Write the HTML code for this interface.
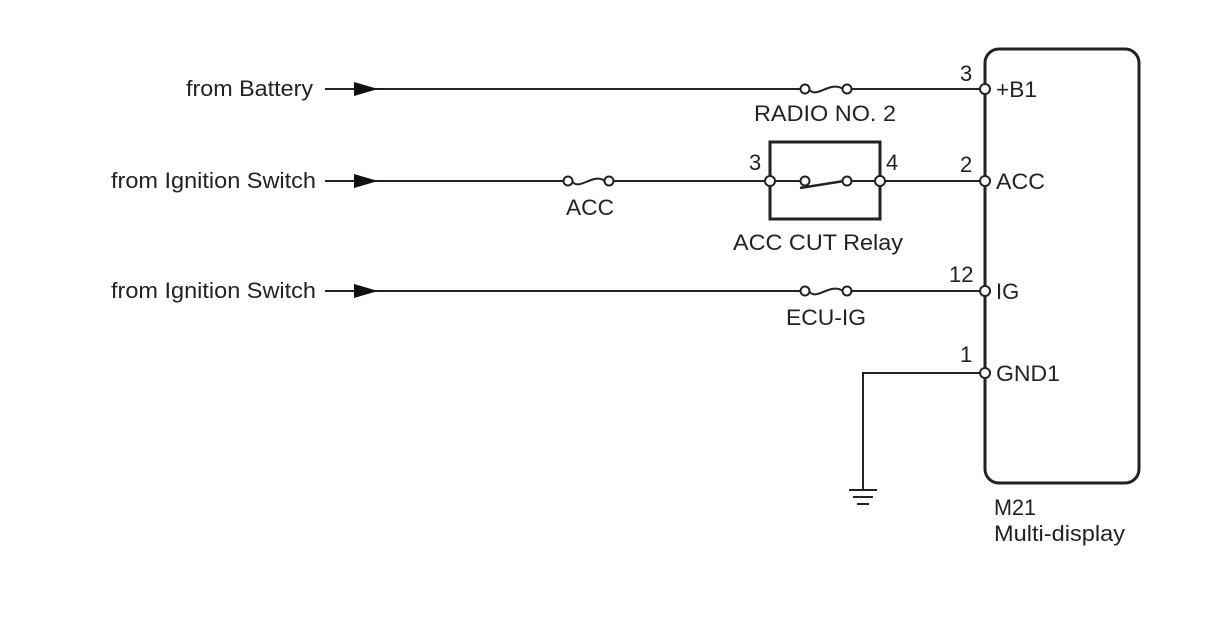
<!DOCTYPE html>
<html><head><meta charset="utf-8"><style>
html,body{margin:0;padding:0;background:#fff;}
svg{display:block;}
text{font-family:"Liberation Sans",Arial,sans-serif;font-size:22px;fill:#222;}
</style></head><body>
<svg width="1208" height="644" viewBox="0 0 1208 644" xmlns="http://www.w3.org/2000/svg">
<g stroke="#222" stroke-width="2" fill="none">
  <rect x="985" y="49" width="154" height="434" rx="14" ry="14" stroke-width="3"/>
  <line x1="325" y1="89" x2="801" y2="89"/>
  <line x1="851" y1="89" x2="981" y2="89"/>
  <line x1="325" y1="181" x2="564" y2="181"/>
  <line x1="613" y1="181" x2="766" y2="181"/>
  <line x1="884" y1="181" x2="981" y2="181"/>
  <line x1="325" y1="291" x2="801" y2="291"/>
  <line x1="851" y1="291" x2="981" y2="291"/>
  <polyline points="981,373 863,373 863,489"/>
  <line x1="849" y1="490" x2="877" y2="490"/>
  <line x1="853" y1="497" x2="873" y2="497"/>
  <line x1="857" y1="504" x2="869" y2="504"/>
  <rect x="770" y="142" width="110" height="77" stroke-width="3"/>
  <line x1="774" y1="181" x2="801" y2="181"/>
  <line x1="851" y1="181" x2="876" y2="181"/>
  <line x1="800" y1="188" x2="844" y2="181" stroke-width="2.5"/>
  <path d="M809,89 C816,100 830,80 843,89"/>
  <path d="M572,181 C579,192 593,172 605,181"/>
  <path d="M809,291 C816,302 830,282 843,291"/>
</g>
<g fill="#fff" stroke="#222" stroke-width="2">
  <circle cx="805" cy="89" r="4.5"/><circle cx="847" cy="89" r="4.5"/>
  <circle cx="568" cy="181" r="4.5"/><circle cx="609" cy="181" r="4.5"/>
  <circle cx="805" cy="291" r="4.5"/><circle cx="847" cy="291" r="4.5"/>
  <circle cx="770" cy="181" r="5"/><circle cx="880" cy="181" r="5"/>
  <circle cx="805" cy="181" r="4.5"/><circle cx="847" cy="181" r="4.5"/>
  <circle cx="985" cy="89" r="5"/><circle cx="985" cy="181" r="5"/>
  <circle cx="985" cy="291" r="5"/><circle cx="985" cy="373" r="5"/>
</g>
<g fill="#111">
  <polygon points="354,82 378,89 354,96"/>
  <polygon points="354,174 378,181 354,188"/>
  <polygon points="354,284 378,291 354,298"/>
</g>
<text x="186" y="96" textLength="127" lengthAdjust="spacingAndGlyphs">from Battery</text>
<text x="111" y="188" textLength="205" lengthAdjust="spacingAndGlyphs">from Ignition Switch</text>
<text x="111" y="298" textLength="205" lengthAdjust="spacingAndGlyphs">from Ignition Switch</text>
<text x="754" y="121" textLength="142" lengthAdjust="spacingAndGlyphs">RADIO NO. 2</text>
<text x="566" y="215" textLength="48" lengthAdjust="spacingAndGlyphs">ACC</text>
<text x="733" y="250" textLength="170" lengthAdjust="spacingAndGlyphs">ACC CUT Relay</text>
<text x="786" y="325" textLength="80" lengthAdjust="spacingAndGlyphs">ECU-IG</text>
<text x="749" y="170">3</text>
<text x="886" y="170">4</text>
<text x="960" y="81">3</text>
<text x="960" y="172">2</text>
<text x="949" y="282">12</text>
<text x="960" y="362">1</text>
<text x="996" y="97" textLength="41" lengthAdjust="spacingAndGlyphs">+B1</text>
<text x="996" y="189" textLength="49" lengthAdjust="spacingAndGlyphs">ACC</text>
<text x="996" y="299">IG</text>
<text x="996" y="381" textLength="64" lengthAdjust="spacingAndGlyphs">GND1</text>
<text x="994" y="515" textLength="42" lengthAdjust="spacingAndGlyphs">M21</text>
<text x="994" y="541" textLength="131" lengthAdjust="spacingAndGlyphs">Multi-display</text>
</svg>
</body></html>
